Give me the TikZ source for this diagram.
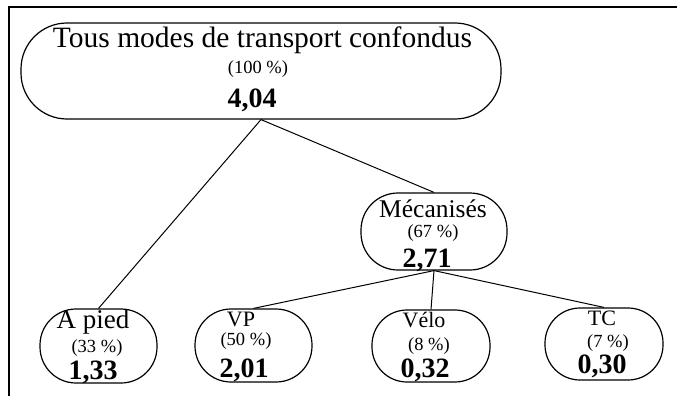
\documentclass[tikz,border=0pt]{standalone}
\usepackage{fontspec}
\setmainfont{Liberation Serif}
\begin{document}
\begin{tikzpicture}[x=1pt,y=-1pt,
    bulle/.style={draw,line width=1.2pt,rounded corners=#1,inner sep=0pt},
    titre/.style={font=\fontsize{#1}{#1}\selectfont,inner sep=0pt,anchor=base},
    part/.style={font=\fontsize{18.5}{18.5}\selectfont,inner sep=0pt,anchor=base},
    chiffre/.style={font=\fontsize{28}{28}\selectfont\bfseries,inner sep=0pt,anchor=base},
    lien/.style={line width=1pt}]
    \useasboundingbox (0,0) rectangle (677,396);
    \draw[line width=2.4pt] (9,396)--(9,7)--(677,7);
    % boites
    \node[bulle=46pt,minimum width=480pt,minimum height=96pt] (tous) at (261,71) {};
    \node[bulle=37pt,minimum width=146pt,minimum height=77pt] (meca) at (434,231.5) {};
    \node[bulle=36pt,minimum width=117pt,minimum height=74pt] (pied) at (98.5,346) {};
    \node[bulle=36pt,minimum width=117pt,minimum height=73pt] (vp) at (253.5,345.5) {};
    \node[bulle=35pt,minimum width=118pt,minimum height=72pt] (velo) at (431,346) {};
    \node[bulle=35pt,minimum width=118pt,minimum height=72pt] (tc) at (604,344) {};
    % textes
    \node[titre=29.5] (tous-t) at (262.5,48) {Tous modes de transport confondus};
    \node[part] (tous-p) at (258,74) {(100~\%)};
    \node[chiffre] (tous-c) at (252,107) {4,04};
    \node[titre=25.5] (meca-t) at (433,217) {Mécanisés};
    \node[part] (meca-p) at (433,237) {(67~\%)};
    \node[chiffre] (meca-c) at (427,267) {2,71};
    \node[titre=27] (pied-t) at (93,328) {A pied};
    \node[part] (pied-p) at (97,352) {(33~\%)};
    \node[chiffre] (pied-c) at (93,379) {1,33};
    \node[titre=22] (vp-t) at (241,326) {VP};
    \node[part] (vp-p) at (246,345) {(50~\%)};
    \node[chiffre] (vp-c) at (244,377) {2,01};
    \node[titre=22] (velo-t) at (424,327) {Vélo};
    \node[part] (velo-p) at (429,350) {(8~\%)};
    \node[chiffre] (velo-c) at (425,377) {0,32};
    \node[titre=22] (tc-t) at (602,325) {TC};
    \node[part] (tc-p) at (608,347) {(7~\%)};
    \node[chiffre] (tc-c) at (602,373) {0,30};
    % liens
    \draw[lien] (tous.south) -- (pied.north);
    \draw[lien] (tous.south) -- (meca.north);
    \foreach \m in {vp,velo,tc}
    \draw[lien] (meca.south) -- (\m.north);
\end{tikzpicture}
\end{document}
